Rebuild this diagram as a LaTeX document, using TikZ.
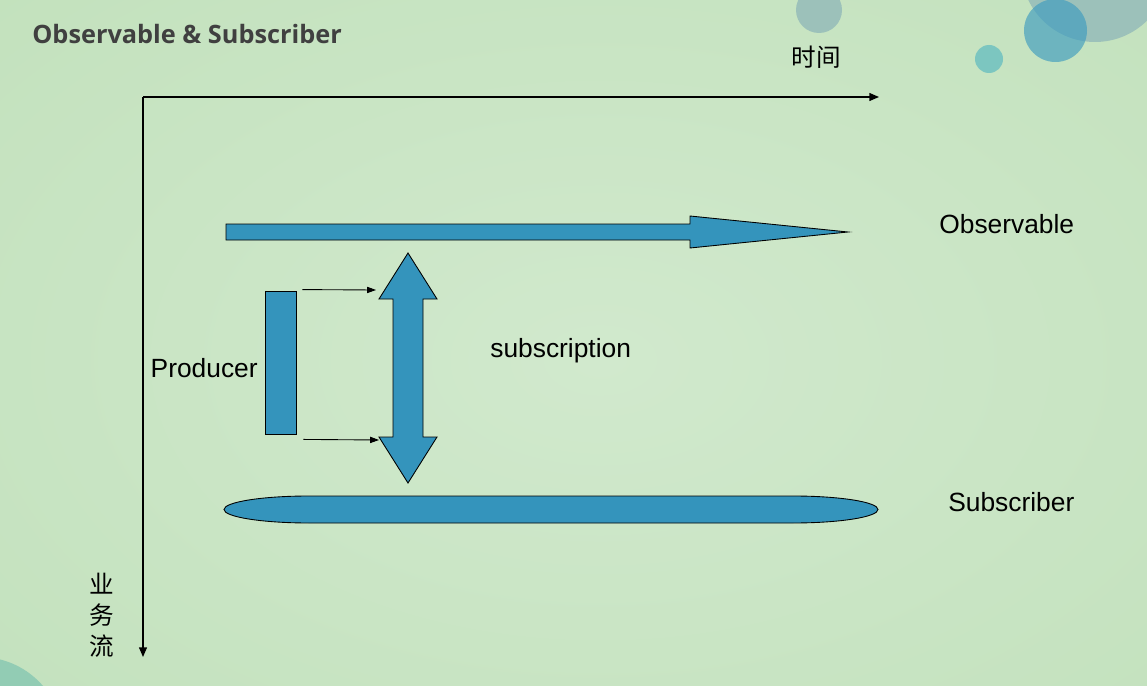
\documentclass[tikz,border=0pt]{standalone}
\usepackage{fontspec}
\setmainfont{Liberation Sans}
\newfontfamily\titlefont{Open Sans}
\newfontfamily\cjk{Noto Sans CJK SC}
\usetikzlibrary{%
        arrows.meta,
        calc,
        positioning}
\definecolor{bgcol}{RGB}{194,225,188}
\definecolor{glow}{RGB}{209,233,205}
\definecolor{flowblue}{RGB}{52,148,188}
\definecolor{titlegrey}{RGB}{64,64,64}
\definecolor{dotgrey}{RGB}{156,193,186}
\definecolor{dotblue}{RGB}{60,155,191}
\definecolor{dotteal}{RGB}{124,198,192}
\definecolor{dotgreen}{RGB}{146,204,180}
\tikzset{%
    flow/.style={fill=flowblue, draw=black, line width=0.5pt},
    lbl/.style={font=\fontsize{15}{18}\selectfont, inner sep=0pt},
    hanzi/.style={font=\cjk\fontsize{14}{17.6}\selectfont, inner sep=0pt,
        align=center},
    axis/.style={line width=0.8pt, -{Triangle[length=5.5pt, width=4.5pt]}},
    feed/.style={line width=0.5pt, -{Triangle[length=5pt, width=3.5pt]}}
}

\begin{document}
\begin{tikzpicture}[x=0.02cm, y=-0.02cm]

    \useasboundingbox (0, 0) rectangle (1147, 686);
    \fill[bgcol] (0, 0) rectangle (1147, 686);

    \begin{scope}
        \clip (0, 0) rectangle (1147, 686);
        \shade[inner color=glow, outer color=bgcol]
            (-300, -200) rectangle (1500, 920);
        \fill[dotgrey] (1095, -32) circle[radius=74];
        \fill[dotblue, fill opacity=0.64] (1055.5, 30.5) circle[radius=31.5];
        \fill[dotgrey] (819, 10) circle[radius=23];
        \fill[dotteal] (989, 59) circle[radius=14];
        \fill[dotgreen] (-20, 740) circle[radius=83];
    \end{scope}

    \node[anchor=west, inner sep=0pt, text=titlegrey,
        font=\titlefont\bfseries\fontsize{14.4}{17}\selectfont] (title)
        at (32, 34) {Observable \& Subscriber};

    % axes
    \coordinate (origin) at (143, 97);
    \coordinate (timeend) at (879, 97);
    \coordinate (flowend) at (143, 657);
    \draw[axis] (origin) -- (timeend);
    \draw[axis] (origin) -- (flowend);
    \node[hanzi] (timelbl) at (816, 57) {时间};
    \node[hanzi] (flowlbl) at (102, 615) {业\\务\\流};

    % observable stream
    \draw[flow] (226, 224) -- (690, 224) -- (690, 216) -- (848, 232)
        -- (690, 248) -- (690, 240) -- (226, 240) -- cycle;
    \node[lbl, anchor=west] (observable) at (939, 224) {Observable};

    % subscription
    \draw[flow] (408, 253) -- (437, 299) -- (423, 299) -- (423, 437)
        -- (437, 437) -- (408, 483) -- (379, 437) -- (393, 437)
        -- (393, 299) -- (379, 299) -- cycle;
    \coordinate (subtop) at (376, 290);
    \coordinate (subbot) at (379, 440);
    \node[lbl, anchor=west] (subscription) at (490, 351) {subscription};

    \node[flow, inner sep=0pt, minimum width=0.62cm, minimum height=2.86cm]
        (producer) at (280.5, 362.5) {};
    \node[lbl, anchor=east] (producerlbl) at (258, 368) {Producer};
    \draw[feed] ($(producer.north east) + (6, -1)$) -- (subtop);
    \draw[feed] ($(producer.south east) + (7, 5)$) -- (subbot);

    % subscriber
    \draw[flow] (309, 496) -- (793, 496)
        arc[start angle=-90, end angle=90, x radius=85, y radius=13.5]
        -- (309, 523)
        arc[start angle=90, end angle=270, x radius=85, y radius=13.5]
        -- cycle;
    \node[lbl, anchor=west] (subscriber) at (948, 502) {Subscriber};

\end{tikzpicture}
\end{document}
